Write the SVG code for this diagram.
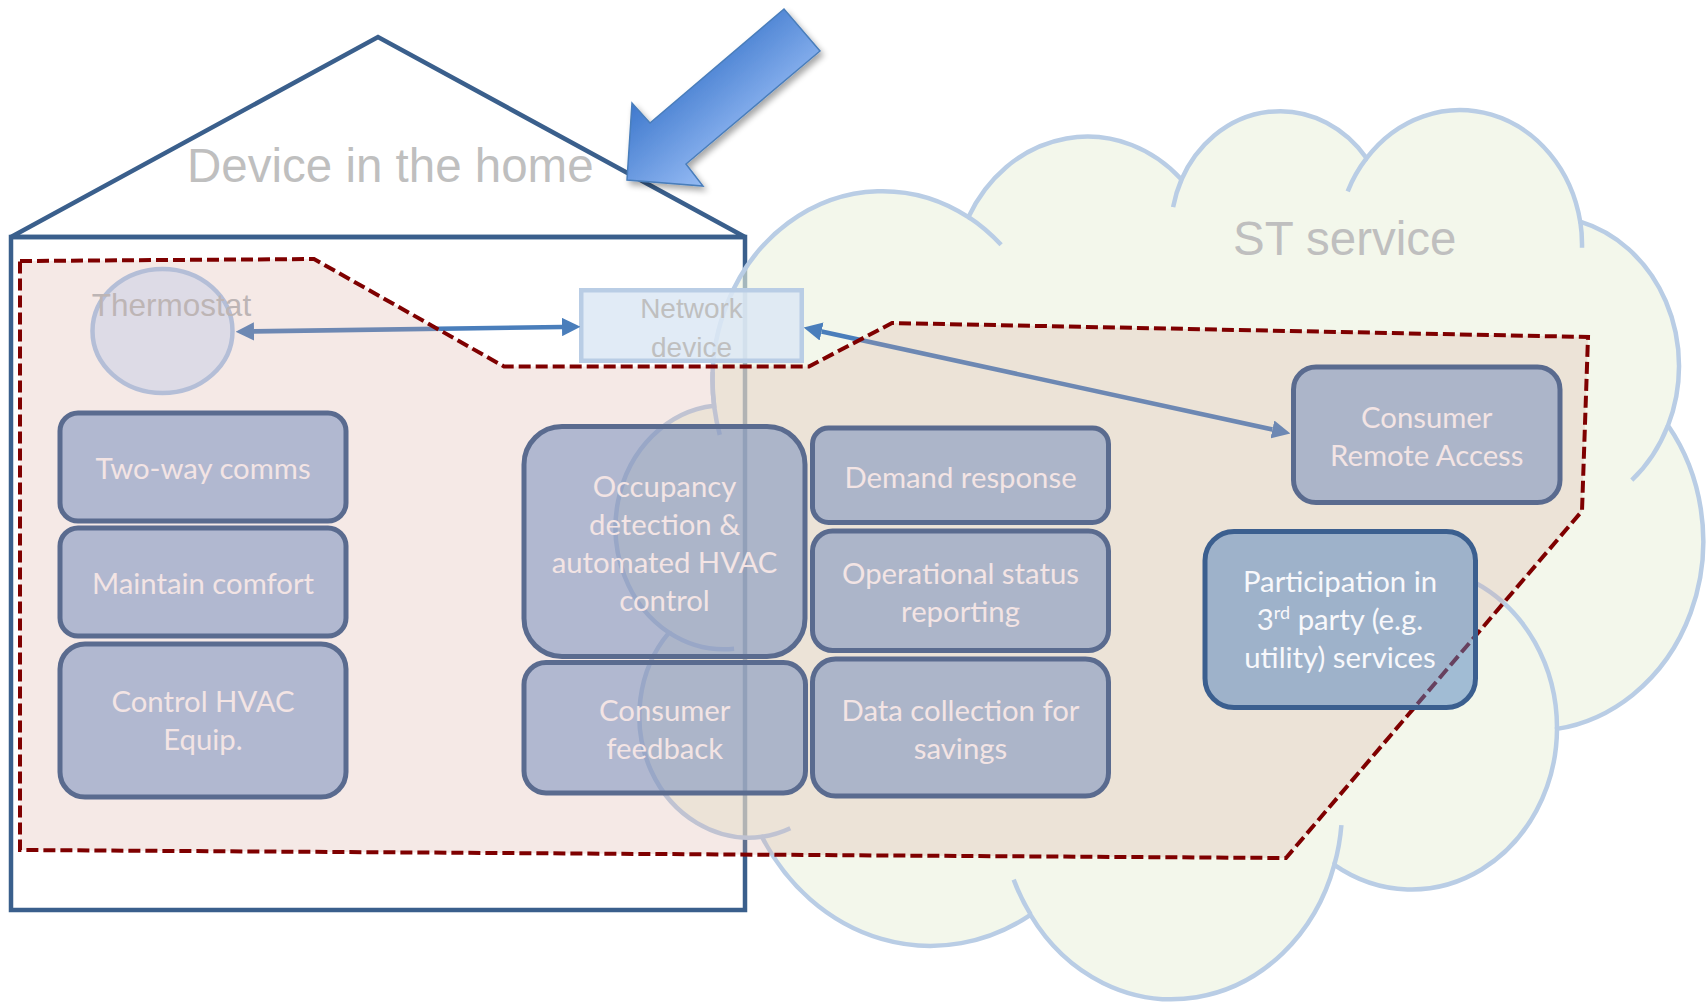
<svg xmlns="http://www.w3.org/2000/svg" width="1706" height="1004" viewBox="0 0 1706 1004">
  <defs>
    <linearGradient id="bigArrowFill" gradientUnits="userSpaceOnUse" x1="664" y1="70" x2="736" y2="154">
      <stop offset="0" stop-color="#3b76cb"/>
      <stop offset="1" stop-color="#93b9f3"/>
    </linearGradient>
    <filter id="softShadow" x="-20%" y="-20%" width="150%" height="150%">
      <feGaussianBlur in="SourceAlpha" stdDeviation="3" result="blur"/>
      <feOffset in="blur" dx="3" dy="4" result="off"/>
      <feComponentTransfer in="off" result="shadow">
        <feFuncA type="linear" slope="0.35"/>
      </feComponentTransfer>
      <feMerge>
        <feMergeNode in="shadow"/>
        <feMergeNode in="SourceGraphic"/>
      </feMerge>
    </filter>
    <marker id="head" viewBox="0 0 4 4" refX="0" refY="2" markerWidth="4" markerHeight="4" markerUnits="strokeWidth" orient="auto-start-reverse">
      <path d="M0,0 L4,2 L0,4 z" fill="#4a7ebb"/>
    </marker>
    <style>
      .house { fill: none; stroke: #3a5f8c; stroke-width: 4.5; }
      .cloud { fill: #ebf1de; fill-opacity: 0.6; stroke: #b9cde5; stroke-width: 4.5; }
      .cloud-inner { fill: none; stroke: #b9cde5; stroke-width: 4.5; }
      .title { font-family: "Liberation Sans", Arial, sans-serif; font-size: 47.5px; fill: #bfbfbf; }
      .small-gray { font-family: "Liberation Sans", Arial, sans-serif; fill: #bfbfbf; text-anchor: middle; }
      .link { fill: none; stroke: #4a7ebb; stroke-width: 4.6; marker-start: url(#head); marker-end: url(#head); }
      .scope { fill: #d7a79b; fill-opacity: 0.25; stroke: #7f0000; stroke-width: 4; stroke-dasharray: 12 5; }
      .box { fill: #7890be; fill-opacity: 0.55; stroke: #5a6b8f; stroke-width: 5; }
      .box-blue { fill: #4f81bd; fill-opacity: 0.5; stroke: #3b5f8f; stroke-width: 5; }
      .label { font-family: Lato, "Open Sans", sans-serif; font-size: 29.3px; fill: #f3e4e4; text-anchor: middle; }
      .label-white { fill: #f8f8fb; }
    </style>
  </defs>

  <!-- house outline -->
  <g id="house">
    <path class="house" d="M11,237 L378,37 L745,237 Z"/>
    <rect class="house" x="11" y="237" width="734" height="673"/>
    <text class="title" x="187" y="182">Device in the home</text>
  </g>

  <!-- service cloud -->
  <g id="cloud">
    <path class="cloud" d="M714.1,405.7
      A169.92,189.12 0 0 1 968.4,217.1
      A134.19,149.55 0 0 1 1181.5,179.5
      A109.83,122.34 0 0 1 1366.6,158.2
      A122.21,135.72 0 0 1 1580.2,221.7
      A134.19,149.67 0 0 1 1668.0,425.5
      A170.47,189.74 0 0 1 1557.0,728.9
      A145.56,161.89 0 0 1 1334.3,864.9
      A169.89,189.64 0 0 1 1030.5,914.9
      A194.25,216.96 0 0 1 761.9,836.8
      A109.71,121.79 0 0 1 669.0,632.6
      A109.33,122.34 0 0 1 714.1,405.7 Z"/>
    <path class="cloud-inner" d="M734.1,648.7 A109.33,122.34 0 0 1 669.0,632.6
      M790.3,828.2 A109.71,121.79 0 0 1 761.9,836.8
      M1030.6,914.4 A169.89,189.64 0 0 1 1013.7,879.6
      M1341.4,825.1 A169.89,189.64 0 0 1 1334.3,864.9
      M1474.8,582.4 A145.56,161.89 0 0 1 1557.0,728.9
      M1667.7,426.0 A134.19,149.67 0 0 1 1631.8,480.2
      M1580.3,221.7 A122.21,135.72 0 0 1 1582.0,247.8
      M1347.7,191.3 A122.21,135.72 0 0 1 1366.6,158.2
      M1173.1,207.1 A109.83,122.34 0 0 1 1181.5,179.5
      M968.3,216.8 A169.92,189.12 0 0 1 1001.1,244.8
      M719.8,434.9 A169.92,189.12 0 0 1 712.7,372.1"/>
    <text class="title" x="1233" y="255">ST service</text>
  </g>

  <!-- network device -->
  <g id="network-device">
    <rect x="581.25" y="290.25" width="220.5" height="70.5" fill="#dce7f4" fill-opacity="0.85" stroke="#b9cde5" stroke-width="4.5"/>
    <text class="small-gray" font-size="28" x="691.5" y="318">Network</text>
    <text class="small-gray" font-size="28" x="691.5" y="357">device</text>
  </g>

  <!-- connectors -->
  <g id="connectors">
    <line class="link" x1="254" y1="331.4" x2="562" y2="327"/>
    <line class="link" x1="821.6" y1="331.5" x2="1272.4" y2="429.5"/>
  </g>

  <!-- dashed scope region -->
  <g id="scope">
    <path class="scope" d="M20,261 L314,259 L504,366.5 L809,366.5 L892,323 L1588,337 L1582,511 L1286,858 L20,850 Z"/>
  </g>

  <!-- thermostat -->
  <g id="thermostat">
    <ellipse cx="162.5" cy="331" rx="70" ry="62" fill="#dddbe6" stroke="#b4bed7" stroke-width="4.5"/>
    <text class="small-gray" font-size="31.5" x="171.5" y="316" style="fill:#bdb5b5">Thermostat</text>
  </g>

  <!-- function boxes -->
  <g id="two-way-comms">
    <rect class="box" x="60" y="413" width="286" height="108" rx="18"/>
    <text class="label" x="203" y="479">Two-way comms</text>
  </g>
  <g id="maintain-comfort">
    <rect class="box" x="60" y="528" width="286" height="108" rx="18"/>
    <text class="label" x="203" y="594">Maintain comfort</text>
  </g>
  <g id="control-hvac">
    <rect class="box" x="60" y="644" width="286" height="153" rx="25"/>
    <text class="label" x="203" y="712">Control HVAC</text>
    <text class="label" x="203" y="750">Equip.</text>
  </g>
  <g id="occupancy">
    <rect class="box" x="524" y="426.5" width="281" height="230" rx="38"/>
    <text class="label" x="664.5" y="497">Occupancy</text>
    <text class="label" x="664.5" y="535">detection &amp;</text>
    <text class="label" x="664.5" y="573">automated HVAC</text>
    <text class="label" x="664.5" y="611">control</text>
  </g>
  <g id="consumer-feedback">
    <rect class="box" x="524" y="662.5" width="281.5" height="130.5" rx="22"/>
    <text class="label" x="664.75" y="721">Consumer</text>
    <text class="label" x="664.75" y="759">feedback</text>
  </g>
  <g id="demand-response">
    <rect class="box" x="812.5" y="428" width="296" height="94.5" rx="16"/>
    <text class="label" x="960.5" y="487.5">Demand response</text>
  </g>
  <g id="operational-status">
    <rect class="box" x="812.5" y="531" width="296" height="119.5" rx="20"/>
    <text class="label" x="960.5" y="584">Operational status</text>
    <text class="label" x="960.5" y="622">reporting</text>
  </g>
  <g id="data-collection">
    <rect class="box" x="812.5" y="659" width="296" height="137" rx="23"/>
    <text class="label" x="960.5" y="721">Data collection for</text>
    <text class="label" x="960.5" y="759">savings</text>
  </g>
  <g id="remote-access">
    <rect class="box" x="1293.5" y="367" width="266.5" height="135.5" rx="22.5"/>
    <text class="label" x="1426.75" y="428">Consumer</text>
    <text class="label" x="1426.75" y="466">Remote Access</text>
  </g>
  <g id="third-party">
    <rect class="box-blue" x="1205" y="531.5" width="270.5" height="176" rx="29"/>
    <text class="label label-white" x="1340" y="592">Participation in</text>
    <text class="label label-white" x="1340" y="630">3<tspan font-size="18" dy="-11">rd</tspan><tspan dy="11"> party (e.g.</tspan></text>
    <text class="label label-white" x="1340" y="668">utility) services</text>
  </g>

  <!-- pointer arrow -->
  <g id="pointer-arrow">
    <polygon points="627,180 632,103 650,123 784,9 820,51 686,164 703,186" fill="url(#bigArrowFill)" stroke="#4a7ebb" stroke-width="1.5" stroke-linejoin="miter" filter="url(#softShadow)"/>
  </g>
</svg>
